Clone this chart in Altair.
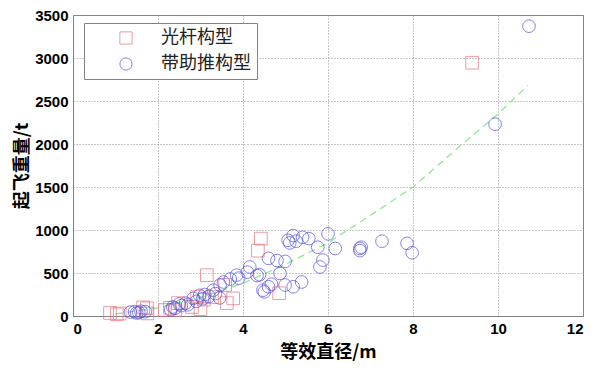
import altair as alt
import pandas as pd

# 光杆构型 (red squares)
sq_x = [0.87, 1.03, 1.10, 1.65, 1.74, 1.75, 2.16, 2.28, 2.40, 2.47, 2.80, 2.92, 3.00, 3.08,
        3.15, 3.27, 3.58, 3.62, 3.77, 4.35, 4.42, 4.85, 9.39]
sq_y = [35, 20, 30, 100, 90, 30, 70, 95, 70, 150, 105, 220, 80, 190,
        475, 220, 360, 150, 205, 760, 900, 265, 2945]

# 带助推构型 (blue circles)
ci_x = [1.35, 1.45, 1.55, 1.60, 1.70, 1.50,
        2.30, 2.35, 2.40, 2.50, 2.55, 2.65, 2.70, 2.83, 2.90, 2.98, 3.05, 3.10, 3.20, 3.30,
        3.35, 3.45, 3.46, 3.54, 3.70, 3.85, 3.90, 4.10, 4.16, 4.33, 4.39,
        4.47, 4.50, 4.60, 4.67, 4.60, 4.80, 4.99, 4.87, 4.99, 5.18, 5.38, 5.06, 5.10, 5.18,
        5.25, 5.40, 5.55, 5.76, 5.81, 5.88, 6.00, 6.17, 6.75, 6.78, 6.75, 7.27, 7.86, 7.98,
        9.93, 10.73]
ci_y = [45, 50, 40, 55, 50, 35,
        70, 105, 90, 140, 120, 150, 130, 205, 170, 240, 200, 250, 230, 300,
        260, 210, 360, 395, 430, 475, 440, 510, 570, 470, 480,
        300, 280, 340, 370, 670, 645, 635, 495, 360, 340, 395, 880, 850, 935,
        870, 915, 900, 800, 570, 650, 955, 785, 785, 800, 760, 870, 845, 735,
        2230, 3370]

# fitted trend line (green dashed)
fit_x = [1.0, 2.0, 3.0, 4.0, 5.0, 6.0, 7.0, 8.0, 9.0, 10.0, 10.7]
fit_y = [25, 95, 215, 380, 600, 850, 1170, 1500, 1930, 2350, 2680]

series = ["光杆构型", "带助推构型"]

pts = pd.DataFrame({
    "x": sq_x + ci_x,
    "y": sq_y + ci_y,
    "type": [series[0]] * len(sq_x) + [series[1]] * len(ci_x),
})
fit = pd.DataFrame({"x": fit_x, "y": fit_y})

xscale = alt.Scale(domain=[0, 12], nice=False)
yscale = alt.Scale(domain=[0, 3500], nice=False)

xaxis = alt.Axis(values=[0, 2, 4, 6, 8, 10, 12], title="等效直径/m", grid=True, format="d",
                 ticks=False, labelPadding=5, titlePadding=7)
yaxis = alt.Axis(values=[0, 500, 1000, 1500, 2000, 2500, 3000, 3500], title="起飞重量/t",
                 format="d", grid=True, ticks=False, labelPadding=5, titlePadding=3)

leg = alt.Legend(title=None, orient="none", legendX=11, legendY=8,
                 padding=6, symbolOffset=27, labelOffset=26,
                 rowPadding=8, symbolSize=150, symbolStrokeWidth=1,
                 labelFontSize=18, labelFont="Noto Sans CJK SC",
                 labelColor="#222", fillColor="white", strokeColor="#808080")

line = alt.Chart(fit).mark_line(color="#90e890", strokeDash=[7, 5], strokeWidth=1.3).encode(
    x=alt.X("x:Q", scale=xscale, axis=xaxis),
    y=alt.Y("y:Q", scale=yscale, axis=yaxis),
)

points = alt.Chart(pts).mark_point(filled=False, strokeWidth=1, size=160).encode(
    x=alt.X("x:Q", scale=xscale, axis=xaxis),
    y=alt.Y("y:Q", scale=yscale, axis=yaxis),
    color=alt.Color("type:N", scale=alt.Scale(domain=series, range=["#e8707a", "#5050e0"]),
                    legend=leg),
    shape=alt.Shape("type:N", scale=alt.Scale(domain=series, range=["square", "circle"]),
                    legend=leg),
)

chart = alt.layer(line, points).properties(
    width=510, height=301,
    autosize=alt.AutoSizeParams(type="none"),
    padding={"left": 65, "top": 7, "right": 1, "bottom": 52},
    background="white",
).configure_view(
    stroke="#808080", strokeWidth=1,
).configure_axis(
    labelFont="Liberation Sans", labelFontSize=15, labelFontWeight="bold", labelColor="black",
    titleFont="Noto Sans CJK SC", titleFontSize=18, titleFontWeight="bold", titleColor="black",
    gridColor="#909090", gridDash=[1, 2], gridWidth=1, gridOpacity=1,
    domainColor="#808080",
)

chart.save("out.html", embed_options={"renderer": "svg", "actions": False})
